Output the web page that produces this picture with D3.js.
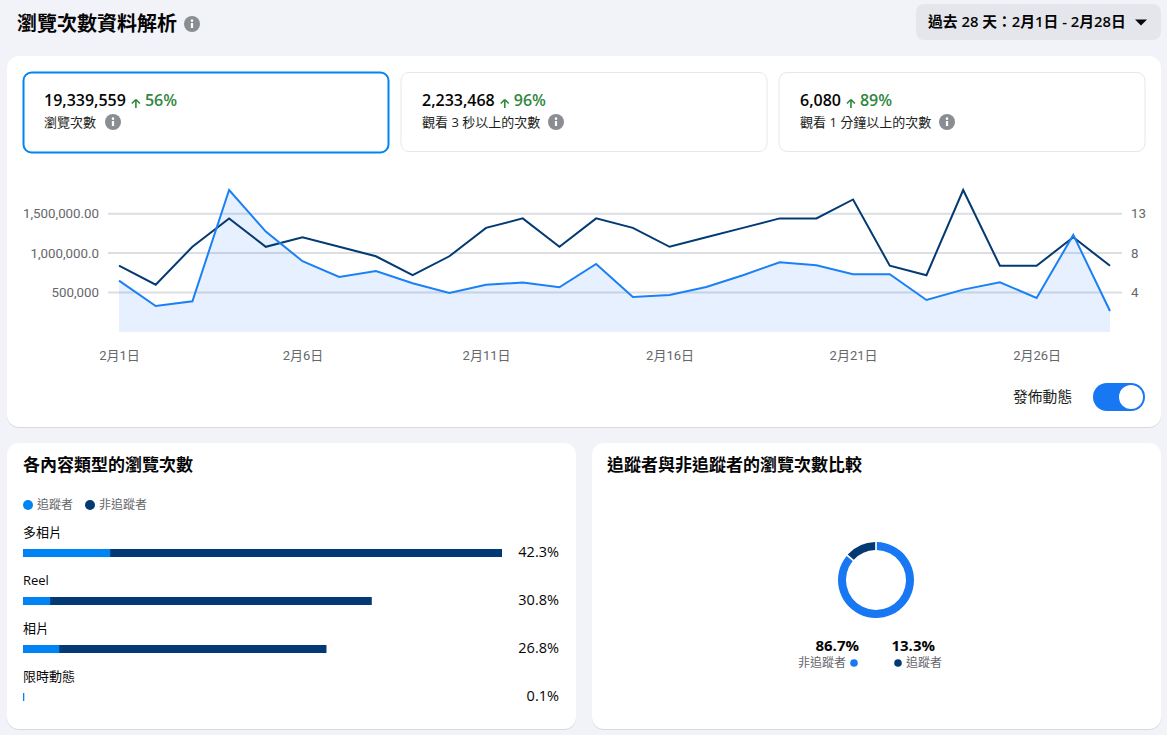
<!DOCTYPE html>
<html lang="zh-Hant">
<head>
<meta charset="utf-8">
<title>瀏覽次數資料解析</title>
<script src="https://cdn.jsdelivr.net/npm/d3@7"></script>
<style>
  html, body { margin: 0; padding: 0; background: #f1f3f8; overflow: hidden; }
  svg { display: block; }
  text { font-family: "Open Sans", "Noto Sans CJK TC", sans-serif; }
  .axis text { font-family: Roboto, "Noto Sans CJK TC", sans-serif; font-size: 13.3px; fill: #65676b; }
  .axis.dates text { font-size: 13px; }
  .axis path, .axis line { display: none; }
</style>
</head>
<body>
<svg id="chart" width="1167" height="735"></svg>
<script>
// Daily reach and published posts for February
const days = d3.range(1, 29);
const views = [651000, 330000, 390000, 1800000, 1273000, 897000, 698000, 774000, 618000, 495000,
  600000, 626000, 567000, 863000, 444000, 470000, 571000, 720000, 885000, 846000,
  732000, 732000, 406000, 537000, 631000, 431000, 1231000, 266000];
const posts = [7, 5, 9, 12, 9, 10, 9, 8, 6, 8, 11, 12, 9, 12, 11, 9, 10, 11, 12, 12, 14, 7, 6, 15, 7, 7, 10, 7];
const leftTicks = [500000, 1000000, 1500000];
const leftTickLabels = ["500,000", "1,000,000.0", "1,500,000.00"];
const rightTickLabels = ["4", "8", "13"];
const dateTicks = [1, 6, 11, 16, 21, 26];

// Headline metrics
const metricValues = ["19,339,559", "2,233,468", "6,080"];
const metricChanges = ["56%", "96%", "89%"];
const metricNames = ["瀏覽次數", "觀看 3 秒以上的次數", "觀看 1 分鐘以上的次數"];

// Views by content type, in percent of all views
const contentTypes = ["多相片", "Reel", "相片", "限時動態"];
const contentTotals = [42.3, 30.8, 26.8, 0.1];
const contentFollowers = [7.7, 2.4, 3.2, 0.1];

// Follower split
const splitNames = ["非追蹤者", "追蹤者"];
const splitValues = [86.7, 13.3];

const BLUE = "#1877f2", BAR_BLUE = "#0084f4", NAVY = "#033a73", GREY = "#65676b", INK = "#050505";
const svg = d3.select("#chart");

function card(x, y, w, h) {
  svg.append("rect").attr("x", x).attr("y", y + 1).attr("width", w).attr("height", h).attr("rx", 12).attr("fill", "#d6d9de");
  svg.append("rect").attr("x", x).attr("y", y).attr("width", w).attr("height", h).attr("rx", 12).attr("fill", "#fff");
}
function label(x, y, str, size, opts = {}) {
  return svg.append("text").attr("x", x).attr("y", y).text(str)
    .attr("font-size", size).attr("font-weight", opts.weight || 400)
    .attr("fill", opts.fill || INK).attr("text-anchor", opts.anchor || "start");
}
function infoIcon(cx, cy, r = 8) {
  const g = svg.append("g").attr("transform", `translate(${cx},${cy})`);
  g.append("circle").attr("r", r).attr("fill", "#8a8d91");
  g.append("circle").attr("cy", -r * 0.42).attr("r", r * 0.16).attr("fill", "#fff");
  g.append("rect").attr("x", -r * 0.14).attr("y", -r * 0.12).attr("width", r * 0.28).attr("height", r * 0.62).attr("fill", "#fff");
}

// Page header
label(17, 31, "瀏覽次數資料解析", 20, { weight: 700 });
infoIcon(192, 24);
svg.append("rect").attr("x", 916).attr("y", 4).attr("width", 245).attr("height", 36).attr("rx", 8).attr("fill", "#e4e6eb");
label(928, 27, "過去 28 天：2月1日 - 2月28日", 14.8, { weight: 600 });
svg.append("path").attr("d", "M1135 19.5h12l-6 6z").attr("fill", INK);

card(7, 56, 1154, 371);
card(7, 443, 569, 286);
card(592, 443, 569, 286);

// Metric tiles
const tileX = [23, 401, 779], tileW = [365, 366, 366];
const iconX = [113, 556, 947];
metricValues.forEach((v, i) => {
  const active = i === 0;
  svg.append("rect").attr("x", tileX[i] + (active ? 0.5 : 0)).attr("y", 72.5)
    .attr("width", tileW[i]).attr("height", active ? 80 : 79).attr("rx", 8)
    .attr("fill", "#fff").attr("stroke", active ? "#0084f4" : "#e4e6eb").attr("stroke-width", active ? 2 : 1);
  const t = label(tileX[i] + 21, 106, v, 16, { weight: 600 });
  const w = t.node().getComputedTextLength();
  const ax = tileX[i] + 21 + w + 10;
  svg.append("path").attr("d", `M${ax} 102.5l-4 4M${ax} 102.5l4 4M${ax} 102.5V111`)
    .attr("stroke", "#31873f").attr("stroke-width", 1.6).attr("fill", "none").attr("transform", "translate(0,-3)");
  label(ax + 9, 105.5, metricChanges[i], 16, { fill: "#31873f", weight: 600 });
  label(tileX[i] + 21, 127, metricNames[i], 13, { fill: "#1c1e21" });
  infoIcon(iconX[i], 122);
});

// Trend chart: views on the left axis, posts on the right, both sharing one plot area
const x = d3.scaleLinear().domain([1, 28]).range([119, 1110]);
const yViews = d3.scaleLinear().domain([0, 1800000]).range([332, 190]);
const yPosts = d3.scaleLinear().domain([0, 15]).range([332, 190]);

svg.append("g").selectAll("line").data(leftTicks).join("line")
  .attr("x1", 108).attr("x2", 1122)
  .attr("y1", d => yViews(d)).attr("y2", d => yViews(d))
  .attr("stroke", "#dcdee3").attr("stroke-width", 2);

svg.append("path").datum(views)
  .attr("d", d3.area().x((d, i) => x(days[i])).y0(yViews(0)).y1(d => yViews(d)))
  .attr("fill", BLUE).attr("fill-opacity", 0.11);
svg.append("path").datum(posts)
  .attr("d", d3.line().x((d, i) => x(days[i])).y(d => yPosts(d)))
  .attr("fill", "none").attr("stroke", NAVY).attr("stroke-width", 2);
svg.append("path").datum(views)
  .attr("d", d3.line().x((d, i) => x(days[i])).y(d => yViews(d)))
  .attr("fill", "none").attr("stroke", "#1b80f5").attr("stroke-width", 2);

svg.append("g").attr("class", "axis").attr("transform", "translate(99,0)")
  .call(d3.axisLeft(yViews).tickValues(leftTicks).tickSize(0).tickPadding(0)
    .tickFormat((d, i) => leftTickLabels[i]));
svg.append("g").attr("class", "axis").attr("transform", "translate(1131,0)")
  .call(d3.axisRight(yViews).tickValues(leftTicks).tickSize(0).tickPadding(0)
    .tickFormat((d, i) => rightTickLabels[i]));
svg.append("g").attr("class", "axis dates").attr("transform", "translate(0,351)")
  .call(d3.axisBottom(x).tickValues(dateTicks).tickSize(0).tickPadding(0)
    .tickFormat(d => `2月${d}日`));

// Posts toggle
label(1013, 402, "發佈動態", 14.8, { fill: "#1c1e21" });
svg.append("rect").attr("x", 1093).attr("y", 383).attr("width", 52).attr("height", 28).attr("rx", 14).attr("fill", BLUE);
svg.append("circle").attr("cx", 1131).attr("cy", 397).attr("r", 12).attr("fill", "#fff");

// Content type panel
label(23, 471, "各內容類型的瀏覽次數", 17, { weight: 700 });
[[28, "追蹤者", BAR_BLUE, 37], [90, "非追蹤者", NAVY, 99]].forEach(([cx, s, c, tx]) => {
  svg.append("circle").attr("cx", cx).attr("cy", 505).attr("r", 5).attr("fill", c);
  label(tx, 509, s, 12, { fill: GREY });
});

const barX = d3.scaleLinear().domain([0, 42.3]).range([23, 502]);
const rowY = d3.scaleBand().domain(contentTypes).range([545, 737]);
const rows = svg.append("g").selectAll("g").data(contentTypes).join("g")
  .attr("transform", d => `translate(0,${rowY(d)})`);
rows.append("text").attr("x", 23).attr("y", -8).text(d => d).attr("font-size", 13).attr("fill", INK);
rows.append("rect").attr("x", barX(0)).attr("y", 4).attr("height", 8)
  .attr("width", (d, i) => barX(contentTotals[i]) - barX(0)).attr("fill", NAVY);
rows.append("rect").attr("x", barX(0)).attr("y", 4).attr("height", 8)
  .attr("width", (d, i) => barX(contentFollowers[i]) - barX(0)).attr("fill", BAR_BLUE);
rows.append("text").attr("x", 559).attr("y", 12).attr("text-anchor", "end")
  .text((d, i) => `${contentTotals[i]}%`).attr("font-size", 14.5).attr("fill", INK);

// Follower split panel
label(607, 471, "追蹤者與非追蹤者的瀏覽次數比較", 17, { weight: 700 });
const pie = d3.pie().sort(null).padAngle(0.035)(splitValues);
const ringColors = [BLUE, NAVY];
svg.append("g").attr("transform", "translate(876,580)").selectAll("path").data(pie).join("path")
  .attr("d", d3.arc().innerRadius(30).outerRadius(38))
  .attr("fill", (d, i) => ringColors[i]);

label(859, 651, `${splitValues[0]}%`, 15, { weight: 700, anchor: "end" });
label(935, 651, `${splitValues[1]}%`, 15, { weight: 700, anchor: "end" });
label(846, 667, splitNames[0], 12, { fill: GREY, anchor: "end" });
svg.append("circle").attr("cx", 854).attr("cy", 663).attr("r", 3.8).attr("fill", BLUE);
svg.append("circle").attr("cx", 898).attr("cy", 663).attr("r", 3.8).attr("fill", NAVY);
label(906, 667, splitNames[1], 12, { fill: GREY });
</script>
</body>
</html>
